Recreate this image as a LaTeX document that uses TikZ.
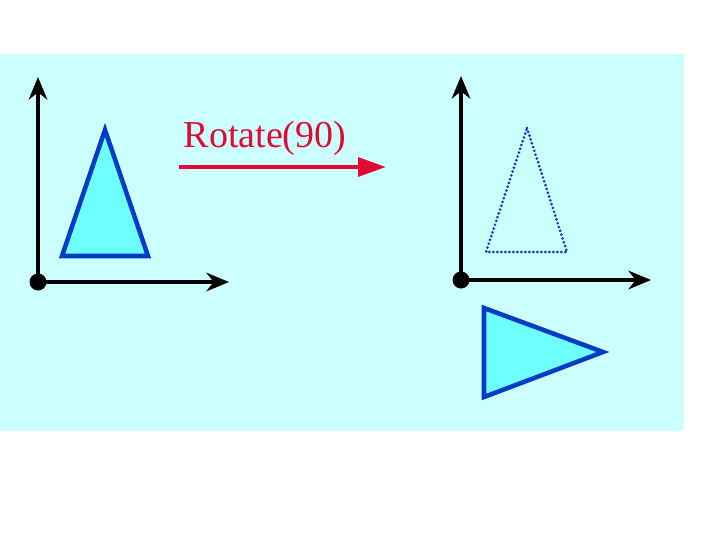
\documentclass[tikz,border=0pt]{standalone}
\usepackage{fontspec}
\setmainfont{Liberation Serif}
\usetikzlibrary{arrows.meta}
\definecolor{bgcyan}{RGB}{204,255,255}
\definecolor{trifill}{RGB}{110,255,255}
\definecolor{triblue}{RGB}{0,60,200}
\definecolor{rotred}{RGB}{225,10,50}
\tikzset{every picture/.style={line width=0.75pt}}
\tikzset{
  axis/.style={line width=2.4, -{Stealth[length=17,width=14]}},
  solidtri/.style={draw=triblue, fill=trifill, line width=3.4, line join=miter},
  dottri/.style={draw=triblue, line width=2.2, line cap=round, dash pattern={on 0pt off 3pt}},
}

\begin{document}
\begin{tikzpicture}[x=0.75pt,y=0.75pt,yscale=-1,xscale=1]
%set diagram left start at 0, and has height of 540
\useasboundingbox (0,0) rectangle (720,540);
\fill [white] (0,0) rectangle (720,540);

%Shape: Rectangle [id:bg]
\fill [bgcyan] (0,54) rectangle (684,431);

% Coordinates of the two frames
\coordinate (oL) at (38,282);
\coordinate (yL) at (38,77);
\coordinate (xL) at (229,282);
\coordinate (oR) at (461,280);
\coordinate (yR) at (461,76);
\coordinate (xR) at (651,280);

%Straight Lines [id:axesL]
\draw [axis] (oL) -- (yL) ;
\draw [axis] (oL) -- (xL) ;
%Shape: Circle [id:dotL]
\fill (oL) circle [radius=8.5] ;

%Straight Lines [id:axesR]
\draw [axis] (oR) -- (yR) ;
\draw [axis] (oR) -- (xR) ;
%Shape: Circle [id:dotR]
\fill (oR) circle [radius=8.5] ;

%Shape: Triangle [id:triL]
\draw [solidtri] (105,130) -- (148,256) -- (62,256) -- cycle ;

%Shape: Triangle [id:triOld]
\draw [dottri] (527,128) -- (567,252) -- (486,252) -- cycle ;

%Shape: Triangle [id:triNew]
\draw [solidtri] (484,308) -- (603,352) -- (484,397) -- cycle ;

% Text Node
\draw (265,147) node [anchor=base, text=rotred, font=\fontsize{28.5}{34}\selectfont, inner sep=0] (rotlbl) {Rotate(90)};

% Red arrow
\coordinate (arrS) at (179,167);
\coordinate (arrE) at (386,167);
\draw [rotred, line width=3.2, -{Triangle[length=21,width=14]}] (arrS) -- (arrE) ;

\end{tikzpicture}
\end{document}
